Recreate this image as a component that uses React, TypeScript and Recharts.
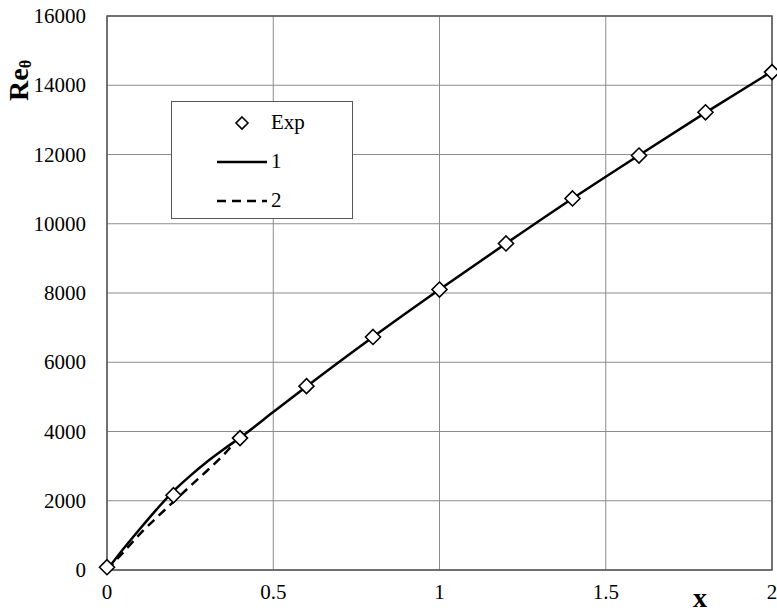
import React from "react";
import {
  ComposedChart,
  Line,
  Scatter,
  XAxis,
  YAxis,
  CartesianGrid,
  ReferenceArea,
} from "recharts";

const expX = [0, 0.2, 0.4, 0.6, 0.8, 1.0, 1.2, 1.4, 1.6, 1.8, 2.0];
const expY = [80, 2160, 3810, 5310, 6730, 8100, 9430, 10730, 11970, 13220, 14380];

const line1X = [0, 0.05, 0.1, 0.15, 0.2, 0.25, 0.3, 0.35, 0.4, 0.5, 0.6, 0.8, 1.0, 1.2, 1.4, 1.6, 1.8, 2.0];
const line1Y = [0, 620, 1200, 1760, 2280, 2720, 3120, 3480, 3820, 4560, 5300, 6730, 8100, 9430, 10730, 11980, 13210, 14400];

const line2X = [0, 0.05, 0.1, 0.15, 0.2, 0.25, 0.3, 0.35, 0.38];
const line2Y = [0, 520, 1050, 1520, 1970, 2420, 2860, 3320, 3640];

const xTicks = [0, 0.5, 1, 1.5, 2];
const yTicks = [0, 2000, 4000, 6000, 8000, 10000, 12000, 14000, 16000];

const expData = expX.map((x, i) => ({ x, y: expY[i] }));
const line1Data = line1X.map((x, i) => ({ x, y: line1Y[i] }));
const line2Data = line2X.map((x, i) => ({ x, y: line2Y[i] }));

const FONT = "'Liberation Serif', 'Times New Roman', serif";

function Diamond(props: any) {
  const { cx, cy } = props;
  const r = 7.5;
  return (
    <path
      d={`M${cx},${cy - r} L${cx + r},${cy} L${cx},${cy + r} L${cx - r},${cy} Z`}
      fill="#fff"
      stroke="#000"
      strokeWidth={1.6}
    />
  );
}

function XTick(props: any) {
  const { x, y, payload } = props;
  return (
    <text x={x} y={y + 27} textAnchor="middle" style={{ fontFamily: FONT, fontSize: 21 }} fill="#000">
      {payload.value}
    </text>
  );
}

function YTick(props: any) {
  const { x, y, payload } = props;
  return (
    <text x={86} y={y + 7} textAnchor="end" style={{ fontFamily: FONT, fontSize: 21 }} fill="#000">
      {payload.value}
    </text>
  );
}

function LegendBox() {
  const row = { display: "flex", alignItems: "center", height: 39 } as const;
  return (
    <div
      style={{
        position: "absolute",
        left: 171,
        top: 101,
        width: 182,
        height: 118,
        border: "1.5px solid #555",
        background: "#fff",
        boxSizing: "border-box",
        fontFamily: FONT,
        fontSize: 21,
        color: "#000",
        paddingTop: 1,
      }}
    >
      <div style={row}>
        <svg width={99} height={20}>
          <path d="M70,4 L76,10 L70,16 L64,10 Z" fill="#fff" stroke="#000" strokeWidth={1.6} />
        </svg>
        <span>Exp</span>
      </div>
      <div style={row}>
        <svg width={99} height={20}>
          <line x1={45} y1={10} x2={95} y2={10} stroke="#000" strokeWidth={2.5} />
        </svg>
        <span>1</span>
      </div>
      <div style={row}>
        <svg width={99} height={20}>
          <line x1={45} y1={10} x2={95} y2={10} stroke="#000" strokeWidth={2.5} strokeDasharray="9 6" />
        </svg>
        <span>2</span>
      </div>
    </div>
  );
}

function YLabel() {
  return (
    <text transform="translate(28,101) rotate(-90)" style={{ fontFamily: FONT, fontWeight: "bold", fontSize: 28 }} fill="#000">
      Re
      <tspan fontSize={16} dy={3}>θ</tspan>
    </text>
  );
}

function XLabel() {
  return (
    <text x={700} y={607} textAnchor="middle" style={{ fontFamily: FONT, fontWeight: "bold", fontSize: 28 }} fill="#000">
      x
    </text>
  );
}

export default function App() {
  return (
    <div style={{ position: "absolute", left: 0, top: 0, width: 777, height: 613, background: "#fff" }}>
      <ComposedChart width={777} height={613} margin={{ top: 16, right: 5, bottom: 0, left: 0 }}>
        <CartesianGrid stroke="#8c8c8c" strokeWidth={1} />
        <XAxis
          type="number"
          dataKey="x"
          domain={[0, 2]}
          ticks={xTicks}
          height={43}
          tickSize={0}
          axisLine={false}
          tick={<XTick />}
          label={{ content: () => <XLabel /> }}
        />
        <YAxis
          type="number"
          dataKey="y"
          domain={[0, 16000]}
          ticks={yTicks}
          width={107}
          tickSize={0}
          axisLine={false}
          tick={<YTick />}
          label={{ content: () => <YLabel /> }}
        />
        <ReferenceArea x1={0} x2={2} y1={0} y2={16000} fill="none" stroke="#555" strokeWidth={1.5} />
        <Line
          data={line2Data}
          dataKey="y"
          type="monotone"
          stroke="#000"
          strokeWidth={2.5}
          strokeDasharray="9 6"
          dot={false}
          isAnimationActive={false}
        />
        <Line
          data={line1Data}
          dataKey="y"
          type="monotone"
          stroke="#000"
          strokeWidth={2.5}
          dot={false}
          isAnimationActive={false}
        />
        <Scatter data={expData} dataKey="y" shape={<Diamond />} isAnimationActive={false} />
      </ComposedChart>
      <LegendBox />
    </div>
  );
}
